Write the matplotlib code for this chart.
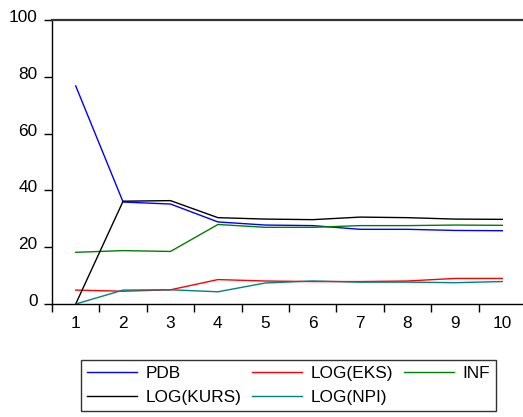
import matplotlib

matplotlib.use("Agg")

import matplotlib.pyplot as plt
import matplotlib.transforms as mtransforms
import numpy as np

plt.rcParams["font.family"] = ["Liberation Sans", "DejaVu Sans"]

periods = np.arange(1, 11)
pdb = [76.8, 35.9, 35.2, 28.9, 27.8, 27.6, 26.3, 26.3, 25.9, 25.8]
log_eks = [4.9, 4.5, 5.0, 8.6, 8.1, 7.9, 7.9, 8.1, 9.0, 9.0]
inf = [18.2, 18.8, 18.5, 28.0, 27.0, 27.0, 27.6, 27.6, 27.8, 27.7]
log_kurs = [0.0, 36.2, 36.4, 30.4, 29.9, 29.7, 30.6, 30.4, 29.9, 29.8]
log_npi = [0.0, 4.9, 5.0, 4.3, 7.4, 8.1, 7.7, 7.7, 7.5, 7.9]

W, H = 523, 417
FS = 12.4
fig = plt.figure(figsize=(W / 100, H / 100), dpi=100)
ax = fig.add_axes([52 / W, 1 - 304 / H, 474 / W, 284 / H])

l_pdb, = ax.plot(periods, pdb, color="#0000ff", lw=1, label="PDB")
l_eks, = ax.plot(periods, log_eks, color="#ff0000", lw=1, label="LOG(EKS)")
l_inf, = ax.plot(periods, inf, color="#008000", lw=1, label="INF")
l_kurs, = ax.plot(periods, log_kurs, color="#000000", lw=1, label="LOG(KURS)")
l_npi, = ax.plot(periods, log_npi, color="#008080", lw=1, label="LOG(NPI)")

ax.set_xlim(0.5, 10.5)
ax.set_ylim(0, 100)
ax.set_yticks(np.arange(0, 101, 20))
ax.set_xticks(periods)
ax.set_xticks(np.arange(0.5, 10.5, 1), minor=True)
ax.tick_params(axis="x", which="major", length=0, pad=9, labelsize=FS)
ax.tick_params(axis="x", which="minor", length=5.5, width=1, direction="out")
ax.tick_params(axis="y", length=5.5, width=1, direction="out", pad=5, labelsize=FS)

# raise y labels slightly, like the original
off = mtransforms.ScaledTranslation(0, 4 / 100, fig.dpi_scale_trans)
for lab in ax.get_yticklabels():
    lab.set_transform(lab.get_transform() + off)

ax.spines["right"].set_visible(False)
ax.spines["top"].set_linewidth(1.6)
ax.spines["top"].set_color("#333333")
ax.spines["left"].set_linewidth(1)
ax.spines["bottom"].set_linewidth(1)

handles = [l_pdb, l_kurs, l_eks, l_npi, l_inf]
leg = fig.legend(
    handles,
    [h.get_label() for h in handles],
    ncol=3,
    loc="upper left",
    bbox_to_anchor=(81 / W, 1 - 416 / H, 415 / W, 56 / H),
    mode="expand",
    fontsize=FS,
    handlelength=2.9,
    handletextpad=0.5,
    borderaxespad=0,
    borderpad=0.35,
    labelspacing=0.5,
    fancybox=False,
    frameon=True,
)
leg.get_frame().set_edgecolor("black")
leg.get_frame().set_linewidth(1)

fig.savefig("out.png", dpi=100)
plt.close(fig)
